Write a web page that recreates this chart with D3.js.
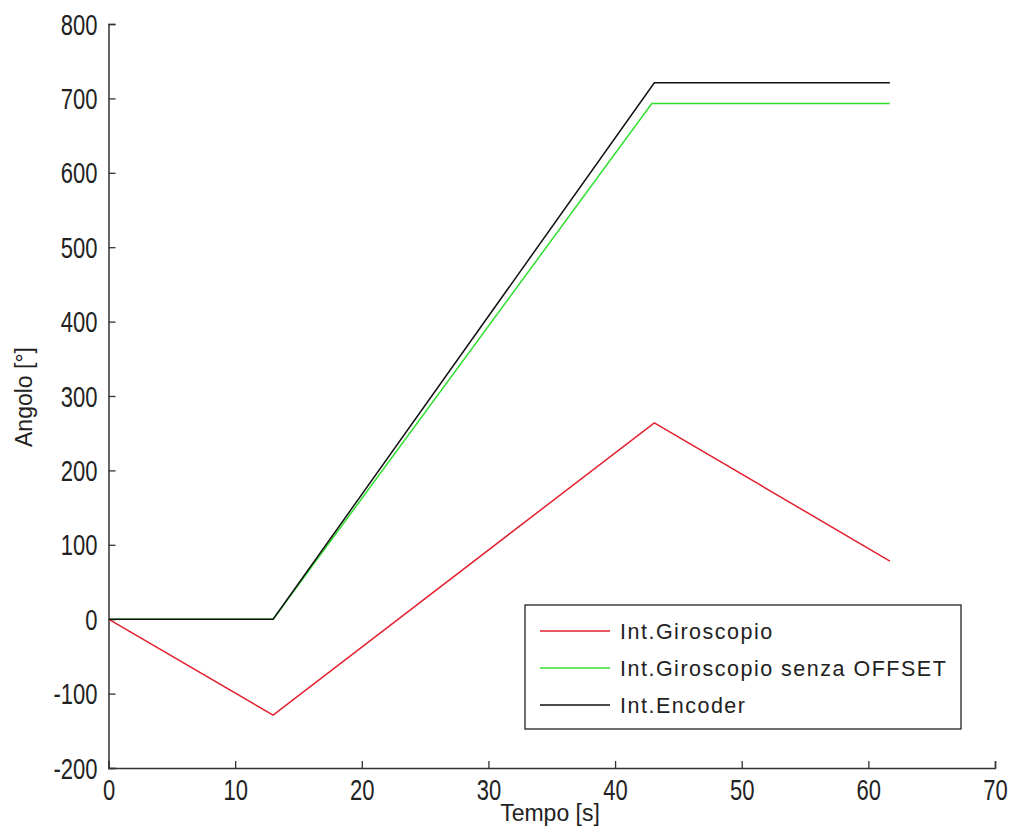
<!DOCTYPE html>
<html>
<head>
<meta charset="utf-8">
<script src="https://cdn.jsdelivr.net/npm/d3@7"></script>
<style>
  body { margin: 0; background: #fff; }
  text { font-family: "Liberation Sans", Arial, sans-serif; fill: #222; }
</style>
</head>
<body>
<svg id="chart" width="1011" height="834"></svg>
<script>
const xTicks = [0, 10, 20, 30, 40, 50, 60, 70];
const yTicks = [-200, -100, 0, 100, 200, 300, 400, 500, 600, 700, 800];
const seriesNames = ["Int.Giroscopio", "Int.Giroscopio senza OFFSET", "Int.Encoder"];
const seriesColors = ["#e3202e", "#2ee02e", "#111111"];
const gyroT = [0, 13, 43.1, 61.7];
const gyroV = [0, -129, 264, 78];
const gyroNoOffT = [0, 13, 42.9, 61.7];
const gyroNoOffV = [0, 0, 693, 693];
const encT = [0, 13, 43.1, 61.7];
const encV = [0, 0, 721, 721];

const svg = d3.select("#chart");
const x = d3.scaleLinear().domain([0, 70]).range([108.5, 995]);
const y = d3.scaleLinear().domain([-200, 800]).range([768, 24]);

const series = [
  { name: seriesNames[0], color: seriesColors[0], t: gyroT, v: gyroV },
  { name: seriesNames[1], color: seriesColors[1], t: gyroNoOffT, v: gyroNoOffV },
  { name: seriesNames[2], color: seriesColors[2], t: encT, v: encV }
];

const tickFs = 22, sy = 1.3;
const fmt = d => String(d); // plain hyphen minus
const xAxis = d3.axisBottom(x).tickValues(xTicks).tickSize(-7).tickFormat(fmt);
const yAxis = d3.axisLeft(y).tickValues(yTicks).tickSize(-7).tickFormat(fmt);

const gx = svg.append("g").attr("transform", `translate(0,${y(-200)})`).call(xAxis);
const gy = svg.append("g").attr("transform", `translate(${x(0)},0)`).call(yAxis);
[gx, gy].forEach(g => {
  g.select(".domain").attr("stroke", "#333").attr("stroke-width", 1.5);
  g.selectAll(".tick line").attr("stroke", "#333").attr("stroke-width", 1.3);
  g.selectAll(".tick text").attr("font-size", tickFs)
    .attr("font-family", "Liberation Sans, Arial, sans-serif").attr("fill", "#222");
});
// vertically stretched tick labels like the reference
gx.selectAll(".tick text")
  .attr("x", null).attr("y", null).attr("dy", null)
  .attr("dominant-baseline", "central")
  .attr("transform", `translate(0,22) scale(1,${sy})`);
gy.selectAll(".tick text")
  .attr("x", null).attr("y", null).attr("dy", null)
  .attr("dominant-baseline", "central")
  .attr("transform", `translate(-11,0) scale(1,${sy})`);

// lines
const line = d3.line().x(d => x(d[0])).y(d => y(d[1]));
series.forEach(s => {
  svg.append("path")
    .datum(s.t.map((t, i) => [t, s.v[i]]))
    .attr("fill", "none")
    .attr("stroke", s.color)
    .attr("stroke-width", 1.5)
    .attr("d", line);
});

// axis labels
svg.append("text").attr("x", 550).attr("y", 821)
  .attr("text-anchor", "middle").attr("font-size", 23).text("Tempo [s]");
svg.append("text").attr("transform", `translate(32,397) rotate(-90)`)
  .attr("text-anchor", "middle").attr("font-size", 23).text("Angolo [°]");

// legend
const lg = svg.append("g");
lg.append("rect").attr("x", 525).attr("y", 605).attr("width", 436).attr("height", 124)
  .attr("fill", "#fff").attr("stroke", "#222").attr("stroke-width", 1.3);
series.forEach((s, i) => {
  const yy = 631 + i * 37;
  lg.append("line").attr("x1", 540).attr("x2", 610).attr("y1", yy).attr("y2", yy)
    .attr("stroke", s.color).attr("stroke-width", 1.5);
  lg.append("text").attr("x", 620).attr("y", yy + 7.5)
    .attr("font-size", 21.5).attr("letter-spacing", 1.5).text(s.name);
});
</script>
</body>
</html>
